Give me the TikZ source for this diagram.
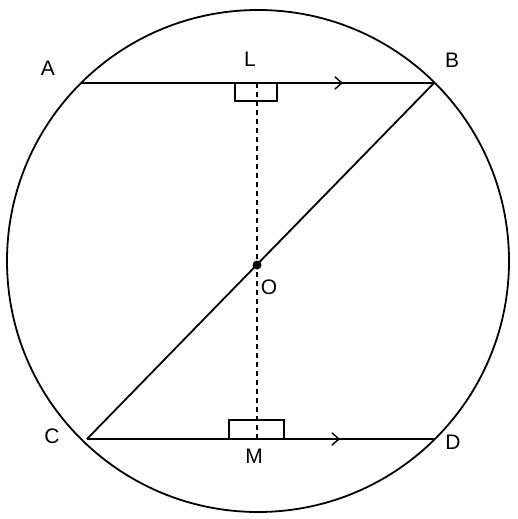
\documentclass[tikz,border=0pt]{standalone}
\usepackage{fontspec}
\setmainfont{Liberation Sans}
\begin{document}
\begin{tikzpicture}[x=1pt,y=-1pt,
  geo/.style={line width=1.8pt,line join=round},
  lbl/.style={font=\fontsize{21}{25}\selectfont,inner sep=0pt},
  perp/.style={line width=1.5pt},
  chev/.style={line width=1.4pt,line cap=round,line join=miter}]
\useasboundingbox (0,0) rectangle (517,519);
\coordinate (ctr) at (258,261);
\coordinate (A) at (81,83);
\coordinate (B) at (434,83);
\coordinate (C) at (87,439);
\coordinate (D) at (435,439);
\coordinate (L) at (257,83);
\coordinate (M) at (257,439);
\coordinate (O) at (257,265);
\draw[geo] (ctr) circle (251);
\draw[geo] (A) -- (B);
\draw[geo] (C) -- (D);
\draw[geo] (C) -- (B);
\draw[line width=1.3pt,dash pattern=on 5pt off 4pt] (L) -- (M);
% right-angle marks
\draw[perp] (235,83) -- (235,101) -- (277,101) -- (277,83);
\draw[perp] (229,439) -- (229,420) -- (284,420) -- (284,439);
% direction chevrons
\draw[chev] (335,77) -- (342,83) -- (335,89);
\draw[chev] (332,433) -- (339,439) -- (332,445);
\fill (O) circle (4.5);
\node[lbl] (lA) at (48,68) {A};
\node[lbl] (lL) at (250,59) {L};
\node[lbl] (lB) at (452,60) {B};
\node[lbl] (lC) at (52,436) {C};
\node[lbl] (lD) at (453,442) {D};
\node[lbl] (lO) at (269,287) {O};
\node[lbl] (lM) at (254,456) {M};
\end{tikzpicture}
\end{document}
